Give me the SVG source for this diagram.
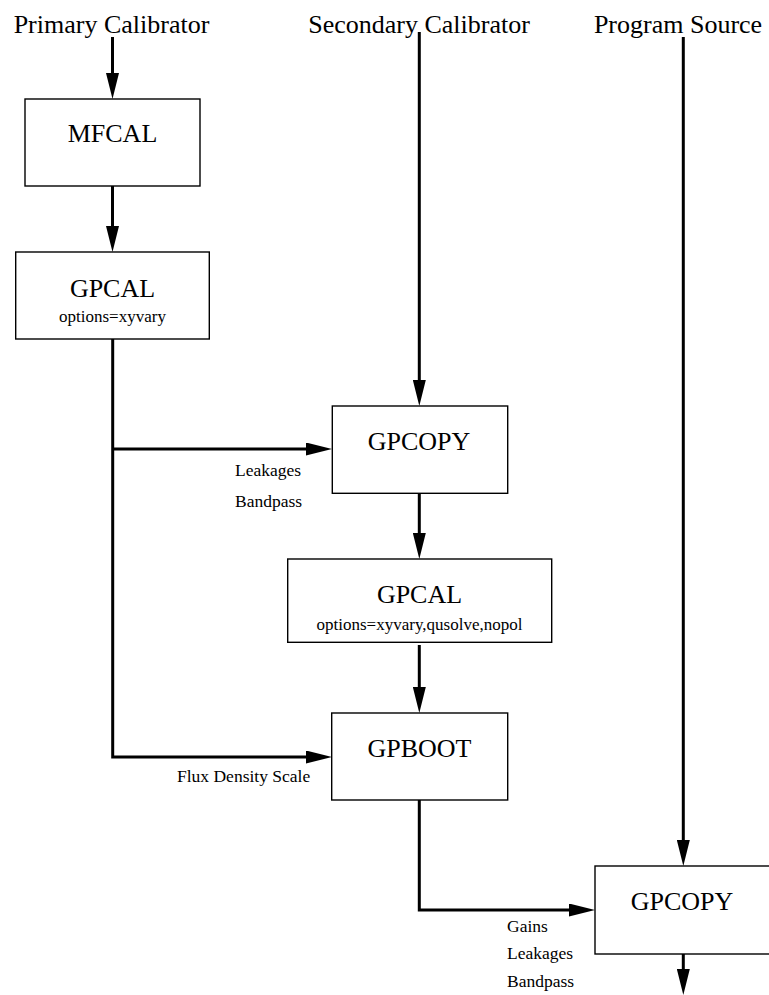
<svg xmlns="http://www.w3.org/2000/svg" width="769" height="995" viewBox="0 0 769 995">
<style>
  .box { fill: #ffffff; stroke: #000000; stroke-width: 1.4; }
  .title { font-family: "Liberation Serif", "Times New Roman", serif; font-size: 26px; fill: #000; text-anchor: middle; }
  .opt { font-family: "Liberation Serif", "Times New Roman", serif; font-size: 17px; fill: #000; text-anchor: middle; }
  .lbl { font-family: "Liberation Serif", "Times New Roman", serif; font-size: 17.5px; fill: #000; }
  .conn { fill: none; stroke: #000000; stroke-width: 3; marker-end: url(#arr); }
  .plain { fill: none; stroke: #000000; stroke-width: 3; }
</style>
<defs>
  <marker id="arr" viewBox="0 0 26 13" refX="6" refY="6.5" markerWidth="26" markerHeight="13" markerUnits="userSpaceOnUse" orient="auto">
    <path d="M0,0 L26,6.5 L0,13 Z" fill="#000"/>
  </marker>
</defs>
<rect width="769" height="995" fill="#ffffff"/>

<g id="sources">
  <text class="title" x="111.5" y="33">Primary Calibrator</text>
  <text class="title" x="419" y="33">Secondary Calibrator</text>
  <text class="title" x="678" y="33">Program Source</text>
</g>

<g id="connectors">
  <path class="conn" d="M112.5,37 L112.5,79"/>
  <path class="conn" d="M112.5,186 L112.5,232"/>
  <path class="plain" d="M112.7,339 L112.7,449"/>
  <path class="conn" d="M112.7,449 L312,449"/>
  <path class="conn" d="M112.7,449 L112.7,757 L312,757"/>
  <path class="conn" d="M419.3,32 L419.3,386"/>
  <path class="conn" d="M419.3,493 L419.3,539"/>
  <path class="conn" d="M419.3,645 L419.3,693"/>
  <path class="conn" d="M419.3,800 L419.3,910 L575,910"/>
  <path class="conn" d="M683.3,37 L683.3,846"/>
  <path class="conn" d="M683.3,954 L683.3,975"/>
</g>

<g id="mfcal">
  <rect class="box" x="25" y="99" width="175" height="87"/>
  <text class="title" x="112.5" y="142">MFCAL</text>
</g>

<g id="gpcal1">
  <rect class="box" x="15.7" y="252" width="193.6" height="87"/>
  <text class="title" x="112.5" y="297">GPCAL</text>
  <text class="opt" x="112.5" y="322">options=xyvary</text>
</g>

<g id="gpcopy1">
  <rect class="box" x="332.3" y="406" width="175.4" height="87.3"/>
  <text class="title" x="419" y="450">GPCOPY</text>
</g>

<g id="gpcal2">
  <rect class="box" x="287.7" y="559" width="264" height="83.3"/>
  <text class="title" x="419.5" y="603">GPCAL</text>
  <text class="opt" x="419.5" y="630">options=xyvary,qusolve,nopol</text>
</g>

<g id="gpboot">
  <rect class="box" x="331.7" y="713" width="176" height="87"/>
  <text class="title" x="419.5" y="757">GPBOOT</text>
</g>

<g id="gpcopy2">
  <rect class="box" x="595" y="866" width="176" height="88"/>
  <text class="title" x="682" y="910">GPCOPY</text>
</g>

<g id="labels">
  <text class="lbl" x="235" y="476">Leakages</text>
  <text class="lbl" x="235" y="507">Bandpass</text>
  <text class="lbl" x="177" y="782">Flux Density Scale</text>
  <text class="lbl" x="507" y="932">Gains</text>
  <text class="lbl" x="507" y="959">Leakages</text>
  <text class="lbl" x="507" y="987">Bandpass</text>
</g>
</svg>
